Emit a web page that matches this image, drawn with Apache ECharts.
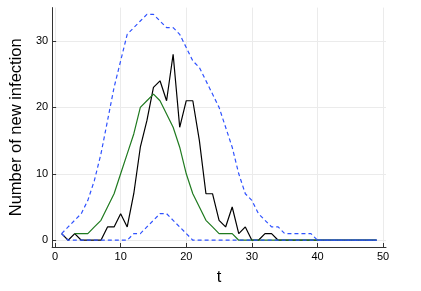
<!DOCTYPE html>
<html><head><meta charset="utf-8">
<script src="https://cdn.jsdelivr.net/npm/echarts@6/dist/echarts.min.js"></script>
<style>html,body{margin:0;padding:0;background:#fff}#c{width:421px;height:291px}</style>
</head><body><div id="c"></div>
<script>
const days = Array.from({length: 49}, (_, i) => i + 1);
const observed = [1,0,1,0,0,0,0,2,2,4,2,7,14,18,23,24,21,28,17,21,21,15,7,7,3,2,5,1,2,0,0,1,1,0,0,0,0,0,0,0,0,0,0,0,0,0,0,0,0];
const modelMean = [null,null,1,1,1,2,3,5,7,10,13,16,20,21,22,21,19,17,14,10,7,5,3,2,1,1,1,0,0,0,0,0,0,0,0,0,0,0,0,0,0,0,0,0,0,0,0,0,0];
const upperBand = [1,2,3,4,6,9,13,18,23,27,31,32,33,34,34,33,32,32,31,29,27,26,24,22,20,17,14,10,7,6,4,3,2,2,1,1,1,1,1,0,0,0,0,0,0,0,0,0,0];
const lowerBand = [1,0,0,0,0,0,0,0,0,0,0,1,1,2,3,4,4,3,2,1,0,0,0,0,0,0,0,0,0,0,0,0,0,0,0,0,0,0,0,0,0,0,0,0,0,0,0,0,0];
const xTicks = [0,10,20,30,40,50];
const yTicks = [0,10,20,30];

const pair = arr => days.map((d, i) => [d, arr[i]]);
const font = 'Liberation Sans, Arial, sans-serif';
const chart = echarts.init(document.getElementById('c'), null, {renderer: 'canvas'});
const axisCommon = {
  axisLine: {show: true, onZero: false, lineStyle: {color: '#333', width: 1}},
  axisTick: {show: true, inside: true, length: 4, lineStyle: {color: '#333'}},
  axisLabel: {color: '#000', fontSize: 11, fontFamily: font, margin: 4},
  splitLine: {show: true, lineStyle: {color: '#ebebeb', width: 1}},
  nameTextStyle: {color: '#000', fontSize: 16.5, fontFamily: font}
};
chart.setOption({
  animation: false,
  backgroundColor: '#fff',
  grid: {left: 47, right: 35, top: 7.6, bottom: 41, containLabel: false},
  xAxis: Object.assign({}, axisCommon, {
    type: 'value', min: -0.44, max: 50.44,
    name: 't', nameLocation: 'middle', nameGap: 22,
    axisTick: Object.assign({}, axisCommon.axisTick, {customValues: xTicks}),
    axisLabel: Object.assign({}, axisCommon.axisLabel, {customValues: xTicks}),
    splitLine: Object.assign({}, axisCommon.splitLine, {customValues: xTicks})
  }),
  yAxis: Object.assign({}, axisCommon, {
    type: 'value', min: -1.02, max: 35.02,
    name: 'Number of new infection', nameLocation: 'middle', nameGap: 19,
    axisTick: Object.assign({}, axisCommon.axisTick, {customValues: yTicks}),
    axisLabel: Object.assign({}, axisCommon.axisLabel, {customValues: yTicks}),
    splitLine: Object.assign({}, axisCommon.splitLine, {customValues: yTicks})
  }),
  series: [
    {type: 'line', data: pair(observed), showSymbol: false, lineStyle: {color: '#000', width: 1.2}, z: 2},
    {type: 'line', data: pair(modelMean), showSymbol: false, connectNulls: false, lineStyle: {color: '#1f7a1f', width: 1.2}, z: 3},
    {type: 'line', data: pair(upperBand), showSymbol: false, lineStyle: {color: '#2f52ff', width: 1.2, type: [4, 3]}, z: 4},
    {type: 'line', data: pair(lowerBand), showSymbol: false, lineStyle: {color: '#2f52ff', width: 1.2, type: [4, 3]}, z: 4}
  ]
});
</script></body></html>
